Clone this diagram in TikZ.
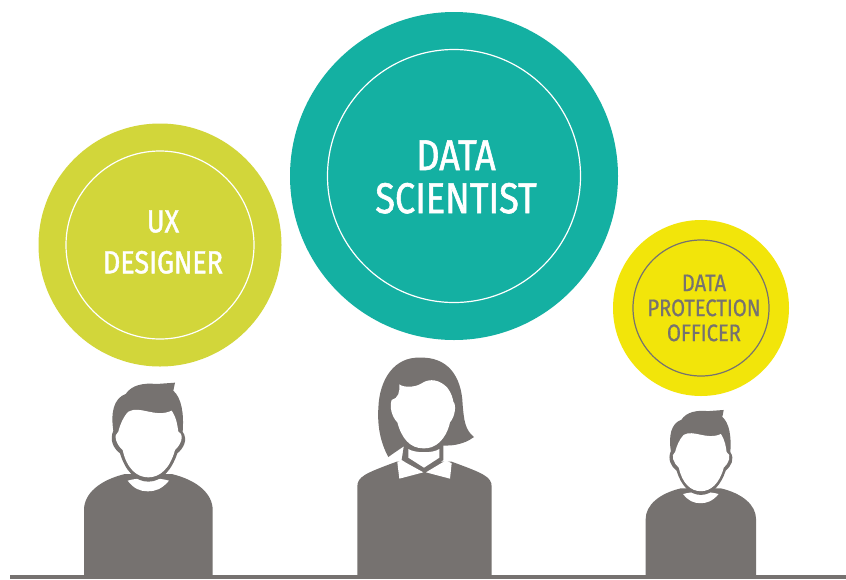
\documentclass[tikz,border=0pt]{standalone}
\usepackage{fontspec}
\newfontfamily\labfont[FakeStretch=0.84,FakeBold=1.3]{Fira Sans}
\newfontfamily\smallfont[FakeStretch=0.84,FakeBold=0.6]{Fira Sans}
\definecolor{figgray}{HTML}{767270}
\definecolor{teal}{HTML}{14B0A2}
\definecolor{lime}{HTML}{D2D63A}
\definecolor{yel}{HTML}{F2E50A}
\tikzset{
  bubble/.style={circle,draw=none,minimum size=#1,inner sep=0pt},
  ring/.style={circle,draw=#1,line width=1.2pt,inner sep=0pt,fill=none},
  lab/.style={align=center},
  figfill/.style={fill=figgray,draw=none},
  white fill/.style={fill=white,draw=none},
}
\newcommand{\manfigure}{%
  % body
  \fill[figfill] (72,625) -- (72,420) .. controls (72,370) and (120,330) .. (195,312)
    -- (335,312) .. controls (410,330) and (458,370) .. (458,420) -- (458,625) -- cycle;
  % collar
  \fill[white fill] (203,332) .. controls (235,322) and (295,322) .. (327,332)
    .. controls (305,358) and (285,364) .. (263,364) .. controls (240,364) and (220,355) .. (203,332) -- cycle;
  % hair and head outline
  \fill[figfill] (197,72) .. controls (215,45) and (250,38) .. (290,42) -- (345,38) -- (340,62)
    .. controls (365,85) and (372,130) .. (368,185)
    .. controls (385,210) and (370,235) .. (352,250)
    .. controls (335,300) and (305,335) .. (265,335)
    .. controls (225,335) and (195,300) .. (180,250)
    .. controls (160,235) and (148,210) .. (160,182)
    .. controls (152,130) and (160,85) .. (197,72) -- cycle;
  % face
  \fill[white fill] (205,125) .. controls (240,105) and (285,145) .. (335,122)
    .. controls (350,145) and (352,165) .. (355,185)
    .. controls (375,195) and (362,225) .. (345,240)
    .. controls (330,295) and (300,322) .. (265,322)
    .. controls (230,322) and (200,295) .. (188,240)
    .. controls (170,225) and (158,195) .. (175,185)
    .. controls (180,165) and (190,140) .. (205,125) -- cycle;
}
\begin{document}
\begin{tikzpicture}[x=1pt,y=-1pt]
\useasboundingbox (0,0) rectangle (846,579);
\fill[white] (0,0) rectangle (846,579);
% bubbles
\node[bubble=328pt,fill=teal] (sci) at (454,176) {};
\node[ring=white,minimum size=253pt] (scir) at (454,176) {};
\node[lab,text=white,font=\labfont\fontsize{43}{43}\selectfont] (scit) at (456,177) {DATA\\SCIENTIST};
\node[bubble=243pt,fill=lime] (ux) at (160,245) {};
\node[ring=white,minimum size=188pt] (uxr) at (160,245) {};
\node[lab,text=white,font=\labfont\fontsize{32}{41}\selectfont] (uxt) at (163,242) {UX\\DESIGNER};
\node[bubble=176pt,fill=yel] (dpo) at (701,308) {};
\node[ring=figgray,minimum size=136pt] (dpor) at (701,308) {};
\node[lab,text=figgray,font=\smallfont\fontsize{24}{25}\selectfont] (dpot) at (704,308) {DATA\\PROTECTION\\OFFICER};
% people
\begin{scope}[shift={(60,370)},scale=1/3]
  \manfigure
\end{scope}
\begin{scope}[shift={(625.07,399.1)},scale=0.286]
  \manfigure
\end{scope}
\begin{scope}[shift={(340,345)},scale=1/3]
  % body
  \fill[figfill] (52,700) -- (52,425) .. controls (52,395) and (75,385) .. (170,350)
    -- (335,350) .. controls (430,385) and (455,395) .. (455,425) -- (455,700) -- cycle;
  % hair
  \fill[figfill] (115,190) .. controls (118,100) and (165,35) .. (240,38)
    .. controls (320,35) and (365,90) .. (368,180)
    .. controls (372,225) and (375,255) .. (402,276)
    .. controls (370,300) and (330,305) .. (290,300)
    -- (190,305) .. controls (175,315) and (160,325) .. (145,336)
    .. controls (120,290) and (112,240) .. (115,190) -- cycle;
  % neck with collar band
  \fill[figfill] (192,300) -- (310,300) -- (310,345) -- (255,385) -- (185,345) -- cycle;
  % collar
  \fill[white fill] (172,352) -- (185,346) -- (250,382) -- (178,401) -- cycle;
  \fill[white fill] (335,355) -- (318,346) -- (258,382) -- (330,401) -- cycle;
  % neck white
  \fill[white fill] (205,312) .. controls (225,325) and (280,325) .. (298,312)
    -- (298,338) -- (252,368) -- (205,338) -- cycle;
  % face
  \fill[white fill] (178,118) .. controls (190,128) and (225,128) .. (245,115)
    .. controls (270,98) and (300,105) .. (322,128)
    .. controls (335,145) and (338,160) .. (340,170)
    .. controls (350,180) and (345,215) .. (330,232)
    .. controls (318,285) and (285,312) .. (250,310)
    .. controls (210,310) and (185,280) .. (172,232)
    .. controls (155,215) and (148,185) .. (155,165)
    .. controls (175,160) and (180,140) .. (178,118) -- cycle;
\end{scope}
% table line
\fill[figgray] (10,575) rectangle (846,579);
\end{tikzpicture}
\end{document}
